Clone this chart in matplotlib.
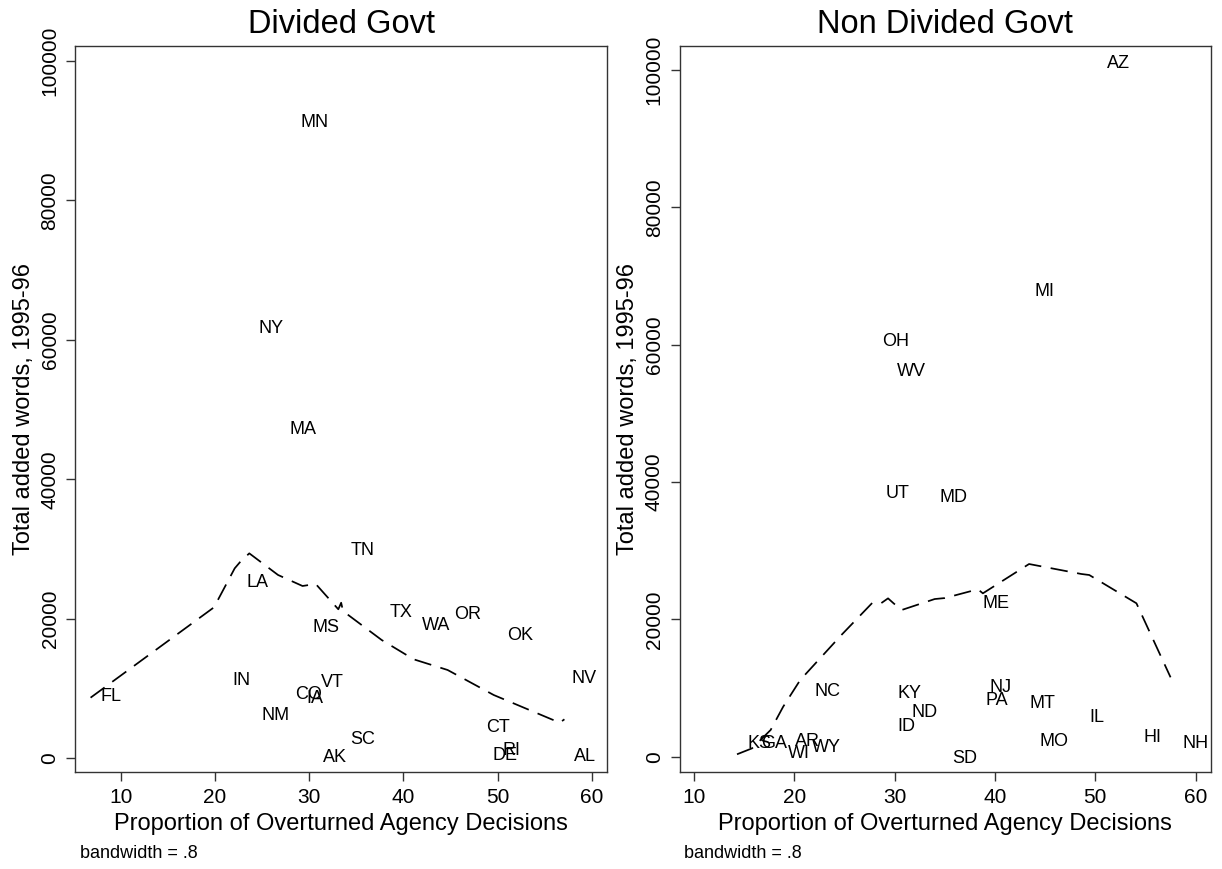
import matplotlib
matplotlib.use("Agg")
import matplotlib.pyplot as plt

plt.rcParams['font.family'] = ['Liberation Sans', 'DejaVu Sans']

# ---------------- data ----------------
div_states = ["MN", "NY", "MA", "TN", "LA", "MS", "TX", "WA", "OR", "OK", "IN", "VT",
              "NV", "FL", "CO", "IA", "NM", "CT", "SC", "AK", "RI", "DE", "AL"]
div_x = [28.0, 23.5, 26.8, 33.3, 22.2, 29.2, 37.4, 40.9, 44.3, 49.9, 20.7, 30.1,
         56.7, 6.8, 27.4, 28.6, 23.8, 47.7, 33.3, 30.4, 49.4, 48.4, 57.0]
div_y = [91500, 61870, 47390, 30100, 25460, 18970, 21260, 19350, 20870, 17920, 11510, 11220,
         11700, 9220, 9400, 8930, 6450, 4680, 3010, 470, 1430, 710, 570]

div_fit_x = [6.8, 19.9, 22.1, 22.7, 23.65, 26.7, 29.3, 30.7, 33.1, 33.4, 33.6, 37.7,
             41.1, 44.7, 49.6, 56.6, 57.1]
div_fit_y = [8690, 21640, 27230, 28180, 29380, 26280, 24700, 24990, 21360, 22300, 21100, 16960,
             14190, 12660, 9070, 5100, 5590]

nd_states = ["AZ", "MI", "OH", "WV", "UT", "MD", "ME", "NC", "KY", "NJ", "PA", "MT", "ND",
             "IL", "ID", "HI", "MO", "NH", "KS", "GA", "AR", "WY", "WI", "SD"]
nd_x = [50.1, 42.9, 27.7, 29.2, 28.1, 33.4, 37.7, 21.0, 29.3, 38.4, 38.0, 42.4, 30.6,
        48.4, 29.2, 53.8, 43.4, 57.7, 14.3, 15.7, 19.0, 20.7, 18.3, 34.7]
nd_y = [101250, 68110, 60830, 56370, 38580, 38050, 22570, 9810, 9470, 10300, 8500, 8010, 6700,
        6070, 4760, 3060, 2580, 2290, 2290, 2190, 2530, 1600, 730, 0]

nd_fit_x = [14.3, 15.8, 17.65, 18.9, 20.6, 24.7, 27.8, 28.65, 29.35, 29.9, 30.7, 34.0, 35.0,
            38.3, 38.8, 43.4, 48.6, 49.4, 54.1, 57.5]
nd_fit_y = [350, 1220, 3890, 7280, 11170, 17720, 22430, 22340, 23060, 22340, 21360, 22960, 23100,
            24380, 23790, 28060, 26610, 26460, 22340, 11560]

x_ticks = [10, 20, 30, 40, 50, 60]
y_ticks = [0, 20000, 40000, 60000, 80000, 100000]

titles = ["Divided Govt", "Non Divided Govt"]
xlabel = "Proportion of Overturned Agency Decisions"
ylabel = "Total added words, 1995-96"
note = "bandwidth = .8"

# ---------------- layout ----------------
W, H = 1222, 869
fig = plt.figure(figsize=(W / 100, H / 100), dpi=100)
fig.patch.set_facecolor("white")

def px_axes(x0, x1, ytop, ybot):
    return [x0 / W, 1 - ybot / H, (x1 - x0) / W, (ybot - ytop) / H]

ax1 = fig.add_axes(px_axes(75.3, 607.0, 45.7, 772.3))
ax2 = fig.add_axes(px_axes(679.5, 1210.7, 45.7, 772.3))

panels = [
    (ax1, div_states, div_x, div_y, div_fit_x, div_fit_y, (5.18, 61.62), (-2007, 102150), 0),
    (ax2, nd_states, nd_x, nd_y, nd_fit_x, nd_fit_y, (8.57, 61.5), (-2272, 103540), 1),
]

for ax, st, xs, ys, fx, fy, xl, yl, i in panels:
    for s, xv, yv in zip(st, xs, ys):
        ax.annotate(s, (xv, yv), xytext=(7.5, -4.7), textcoords="offset points",
                    ha="left", va="baseline", fontsize=13, color="black")
    ax.plot(fx, fy, color="black", lw=1.25, linestyle=(0, (10, 5.5)))
    ax.set_xlim(*xl)
    ax.set_ylim(*yl)
    ax.set_xticks(x_ticks)
    ax.set_yticks(y_ticks)
    ax.set_xticklabels([str(t) for t in x_ticks], fontsize=15)
    ax.set_yticklabels([str(t) for t in y_ticks], fontsize=15, rotation=90, va="center")
    ax.tick_params(axis="both", direction="out", length=6.3, width=1.0, color="#333333")
    ax.tick_params(axis="x", pad=5)
    ax.tick_params(axis="y", pad=5)
    for sp in ax.spines.values():
        sp.set_linewidth(1.0)
        sp.set_color("#333333")
    ax.set_title(titles[i], fontsize=23.5, pad=9)
    ax.set_xlabel(xlabel, fontsize=17, labelpad=4)
    ax.set_ylabel(ylabel, fontsize=17, labelpad=4)
    bb = ax.get_position()
    fig.text(bb.x0 + 5 / W, 1 - 853 / H, note, fontsize=13, ha="left", va="center")

fig.savefig("out.png", dpi=100, facecolor="white")
